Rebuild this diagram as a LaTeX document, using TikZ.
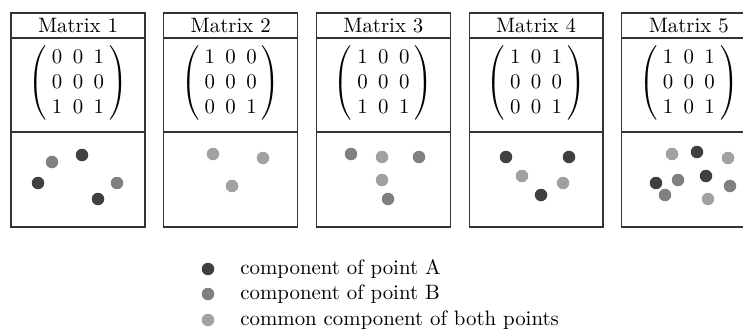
\documentclass[tikz,border=0pt]{standalone}
\setlength{\arraycolsep}{2.5pt}
\begin{document}
\begin{tikzpicture}[x=0.48pt, y=-0.48pt]
        \tikzstyle{box} = [draw=black!80, line width=0.6pt, rectangle, minimum width=64.3pt, inner sep=0pt]
        \tikzstyle{head} = [box, minimum height=12pt]
        \tikzstyle{mat} = [box, minimum height=45.1pt]
        \tikzstyle{pts} = [box, minimum height=45.6pt]
        \tikzstyle{pt} = [circle, minimum size=6pt, inner sep=0pt]
        \tikzstyle{ptA} = [pt, fill=black!75]
        \tikzstyle{ptB} = [pt, fill=black!50]
        \tikzstyle{ptC} = [pt, fill=black!37]
        \tikzstyle{lbl} = [anchor=west, inner sep=0pt]
        \useasboundingbox (0,0) rectangle (743,329);
        % the five panels
        \node[head] (H1) at (78,25.5) {Matrix 1};
        \node[mat] (M1) at (78,85) {};
        \node (E1) at (78,83) {$\left(\begin{array}{ccc}0&0&1\\0&0&0\\1&0&1\end{array}\right)$};
        \node[pts] (P1) at (78,179.5) {};
        \node[head] (H2) at (230.7,25.5) {Matrix 2};
        \node[mat] (M2) at (230.7,85) {};
        \node (E2) at (230.7,83) {$\left(\begin{array}{ccc}1&0&0\\0&0&0\\0&0&1\end{array}\right)$};
        \node[pts] (P2) at (230.7,179.5) {};
        \node[head] (H3) at (383.4,25.5) {Matrix 3};
        \node[mat] (M3) at (383.4,85) {};
        \node (E3) at (383.4,83) {$\left(\begin{array}{ccc}1&0&0\\0&0&0\\1&0&1\end{array}\right)$};
        \node[pts] (P3) at (383.4,179.5) {};
        \node[head] (H4) at (536.1,25.5) {Matrix 4};
        \node[mat] (M4) at (536.1,85) {};
        \node (E4) at (536.1,83) {$\left(\begin{array}{ccc}1&0&1\\0&0&0\\0&0&1\end{array}\right)$};
        \node[pts] (P4) at (536.1,179.5) {};
        \node[head] (H5) at (688.8,25.5) {Matrix 5};
        \node[mat] (M5) at (688.8,85) {};
        \node (E5) at (688.8,83) {$\left(\begin{array}{ccc}1&0&1\\0&0&0\\1&0&1\end{array}\right)$};
        \node[pts] (P5) at (688.8,179.5) {};
        % components of point A
        \foreach \n/\x/\y in {a1/82/155, a2/38/183, a3/98/199, a4/506/157, a5/569/157,
                a6/541/195, a7/697/152, a8/656/183, a9/706/176}
            \node[ptA] (\n) at (\x,\y) {};
        % components of point B
        \foreach \n/\x/\y in {b1/52/162, b2/117/183, b3/351/154, b4/419/157, b5/388/199,
                b6/678/180, b7/730/186, b8/665/195}
            \node[ptB] (\n) at (\x,\y) {};
        % common components
        \foreach \n/\x/\y in {c1/213/154, c2/263/158, c3/232/186, c4/382/157, c5/382/180,
                c6/522/176, c7/563/183, c8/672/154, c9/728/158, c10/708/199}
            \node[ptC] (\n) at (\x,\y) {};
        % legend
        \node[ptA] (LA) at (208,269) {};
        \node[lbl] (TA) at (240,269) {component of point A};
        \node[ptB] (LB) at (208,294) {};
        \node[lbl] (TB) at (240,294) {component of point B};
        \node[ptC] (LC) at (208,320) {};
        \node[lbl] (TC) at (240,320) {common component of both points};
      \end{tikzpicture}
\end{document}
